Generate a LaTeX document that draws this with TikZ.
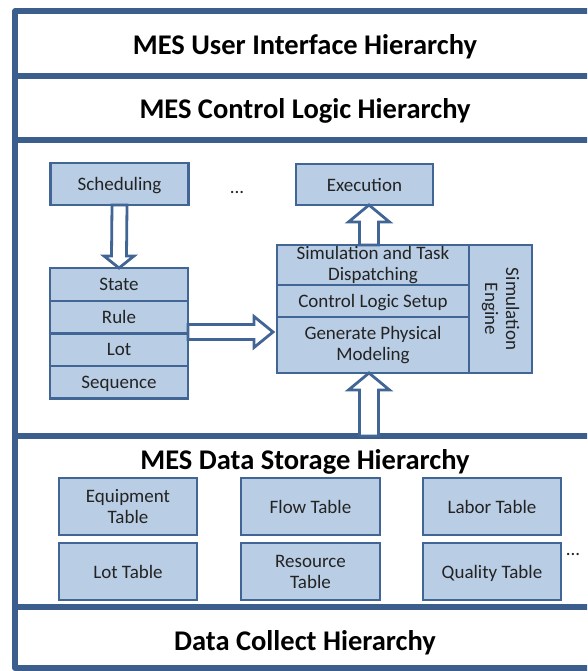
\documentclass[tikz,border=0pt]{standalone}
\usepackage{fontspec}
\setmainfont{Carlito}
\usetikzlibrary{positioning,calc}

\definecolor{frameblue}{RGB}{59,94,140}
\definecolor{boxfill}{RGB}{185,205,229}
\definecolor{boxline}{RGB}{65,101,148}
\definecolor{boxtext}{RGB}{35,35,35}

\newcommand\boxfont{\fontsize{19}{21}\selectfont}
\newcommand\titlefont{\bfseries\fontsize{28.5}{30}\selectfont}

\begin{document}
\begin{tikzpicture}[x=1pt,y=1pt,
    frame/.style={draw=frameblue,line width=6pt,line join=round},
    layer title/.style={font=\titlefont,anchor=base,inner sep=0pt},
    unit box/.style={draw=boxline,fill=boxfill,line width=2.8pt,outer sep=0pt,inner sep=0pt,minimum width=138pt,align=center,font=\boxfont,text=boxtext},
    one line/.style={text depth=0pt},
    fat arrow/.style={draw=boxline,fill=white,line width=2.8pt},
    more dots/.style={font=\boxfont,anchor=base,text=boxtext}]
    \clip (0,0) rectangle (587,671);

    % hierarchy frame
    \draw[frame] (15,3) rectangle (600,659.5);
    \foreach \y in {595,531,235,64}
        \draw[frame] (15,\y) -- (600,\y);
    \coordinate (storetop) at (305,235);

    \node[layer title] (ui) at (305,616) {MES User Interface Hierarchy};
    \node[layer title] (logic) at (305,552) {MES Control Logic Hierarchy};
    \node[layer title] (storage) at (305,201.5) {MES Data Storage Hierarchy};
    \node[layer title] (collect) at (305,20.5) {Data Collect Hierarchy};

    % control logic
    \node[unit box, one line, minimum height=42pt] (sched) at (119.5,487) {Scheduling};
    \node[more dots] (moresteps) at (237,477) {...};
    \node[unit box, one line, minimum width=137pt, minimum height=41pt] (exec) at (364.5,486.5) {Execution};

    \node[unit box, one line, minimum height=33pt] (state) at (119,386.5) {State};
    \node[unit box, one line, minimum height=32.5pt] (rule) [below=0pt of state] {Rule};
    \node[unit box, one line, minimum height=32.5pt] (lot) [below=0pt of rule] {Lot};
    \node[unit box, one line, minimum height=32.5pt] (seq) [below=0pt of lot] {Sequence};

    \node[unit box, minimum width=192pt, minimum height=40pt] (simtask) at (373,406) {Simulation and Task\\Dispatching};
    \node[unit box, one line, minimum width=192pt, minimum height=32pt] (setup) [below=0pt of simtask] {Control Logic Setup};
    \node[unit box, minimum width=192pt, minimum height=56pt] (gen) [below=0pt of setup] {Generate Physical\\Modeling};
    \node[unit box, rotate=-90, minimum width=128pt, minimum height=63pt, anchor=south west] (engine) at (simtask.north east) {Simulation\\Engine};
    \coordinate (upx) at ($(simtask.north west)+(92,0)$);

    % data storage
    \node[unit box, minimum height=57pt] (equip) at (128,164.5) {Equipment\\Table};
    \node[unit box, one line, minimum width=139pt, minimum height=57pt] (flow) [right=44pt of equip] {Flow Table};
    \node[unit box, one line, minimum height=57pt] (labor) [right=43pt of flow] {Labor Table};
    \node[unit box, one line, minimum height=57pt] (lottab) [below=8pt of equip] {Lot Table};
    \node[unit box, minimum width=139pt, minimum height=57pt] (resource) [below=8pt of flow] {Resource\\Table};
    \node[unit box, one line, minimum height=57pt] (quality) [below=8pt of labor] {Quality Table};
    \node[more dots] (moretables) at (573,115) {...};

    % hollow arrows
    \filldraw[fat arrow] ($(sched.south)+(-7.5,0)$) -- ($(state.north)+(-7.5,12)$) -- ($(state.north)+(-15,12)$)
        -- (state.north) -- ($(state.north)+(15,12)$) -- ($(state.north)+(7.5,12)$) -- ($(sched.south)+(7.5,0)$) -- cycle;
    \filldraw[fat arrow] ($(rule.south east)+(0,9)$) -- ($(rule.south east -| simtask.west)+(-23,9)$) -- ($(rule.south east -| simtask.west)+(-23,17)$)
        -- ($(rule.south east -| simtask.west)+(-4,1.5)$) -- ($(rule.south east -| simtask.west)+(-23,-14)$)
        -- ($(rule.south east -| simtask.west)+(-23,-6)$) -- ($(rule.south east)+(0,-6)$) -- cycle;
    \filldraw[fat arrow] ($(upx)+(-9.5,0)$) -- ($(upx |- exec.south)+(-9.5,-17)$) -- ($(upx |- exec.south)+(-20.5,-17)$)
        -- (upx |- exec.south) -- ($(upx |- exec.south)+(20.5,-17)$) -- ($(upx |- exec.south)+(9.5,-17)$) -- ($(upx)+(9.5,0)$) -- cycle;
    \filldraw[fat arrow] ($(upx |- storetop)+(-9.5,0)$) -- ($(upx |- gen.south)+(-9.5,-17)$) -- ($(upx |- gen.south)+(-20.5,-17)$)
        -- (upx |- gen.south) -- ($(upx |- gen.south)+(20.5,-17)$) -- ($(upx |- gen.south)+(9.5,-17)$) -- ($(upx |- storetop)+(9.5,0)$) -- cycle;
\end{tikzpicture}
\end{document}
